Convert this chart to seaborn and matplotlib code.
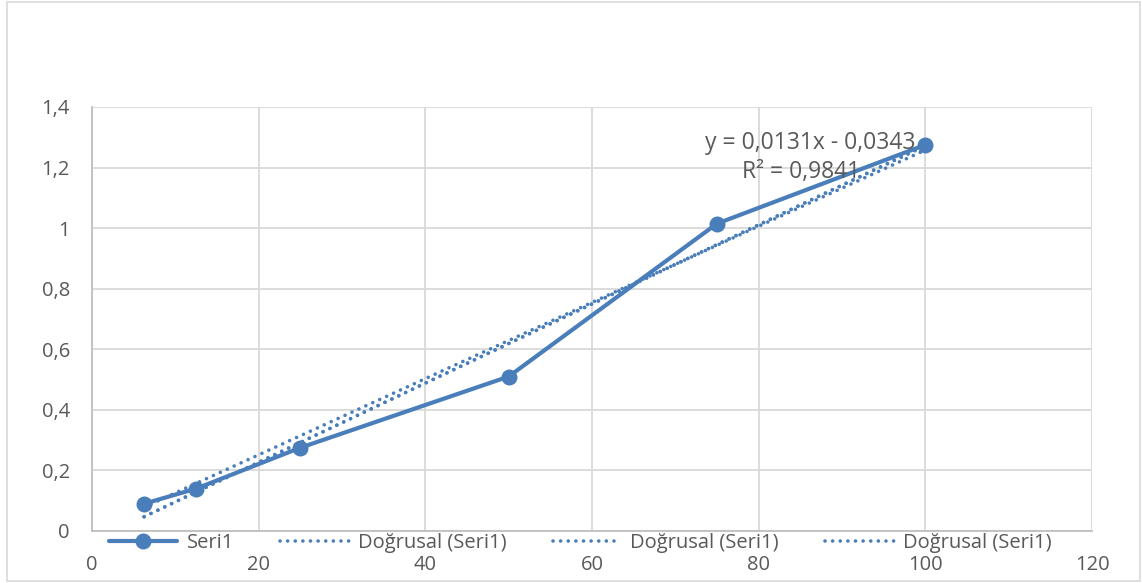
import numpy as np
import pandas as pd
import matplotlib
matplotlib.use("Agg")
import matplotlib.pyplot as plt
import seaborn as sns
from matplotlib.ticker import FuncFormatter, MultipleLocator
from matplotlib.patches import Rectangle

# Data
x_vals = [6.25, 12.5, 25, 50, 75, 100]
y_vals = [0.09, 0.14, 0.275, 0.51, 1.015, 1.275]
series_name = "Seri1"
trend_label = "Doğrusal (Seri1)"
eq_line1 = "y = 0,0131x - 0,0343"
eq_line2 = "R² = 0,9841"

sns.set_theme(style="white")
plt.rcParams['font.family'] = ['Open Sans', 'DejaVu Sans']

blue = "#4a7ebb"
txt = "#595959"
FS = 14.5
EFS = 16.5

fig = plt.figure(figsize=(11.42, 5.83), dpi=100)
ax = fig.add_axes([92/1142, 1-531/583, 1000/1142, 424/583])

df = pd.DataFrame({"x": x_vals, "y": y_vals})
xa = np.array(x_vals)
ya = np.array(y_vals)

# Trendlines (Excel-style linear fits)
slope, intercept = np.polyfit(xa, ya, 1)
slope0 = (xa * ya).sum() / (xa * xa).sum()
xs = np.array([xa.min(), xa.max()])
dot = dict(color=blue, lw=2.6, linestyle=(0, (0.01, 2.1)), dash_capstyle="round",
           solid_capstyle="round")
l1, = ax.plot(xs, slope * xs + intercept, label=trend_label, **dot)
l2, = ax.plot(xs, slope0 * xs, label=trend_label, **dot)
l3, = ax.plot(xs, slope * xs + intercept, label=trend_label, **dot)

sns.lineplot(data=df, x="x", y="y", ax=ax, color=blue, lw=3, marker="o",
             markersize=11.5, markeredgewidth=0, label=series_name, zorder=5)

ax.set_xlim(0, 120)
ax.set_ylim(0, 1.4)
ax.xaxis.set_major_locator(MultipleLocator(20))
ax.yaxis.set_major_locator(MultipleLocator(0.2))
fmt = FuncFormatter(lambda v, p: ("%g" % round(v, 2)).replace(".", ","))
ax.xaxis.set_major_formatter(fmt)
ax.yaxis.set_major_formatter(fmt)
ax.grid(True, color="#d9d9d9", lw=1.3)
ax.set_axisbelow(True)
for s in ["top", "right"]:
    ax.spines[s].set_visible(False)
for s in ["left", "bottom"]:
    ax.spines[s].set_color("#bfbfbf")
    ax.spines[s].set_linewidth(1.3)
ax.tick_params(axis="both", length=0, labelsize=FS, labelcolor=txt)
ax.tick_params(axis="x", pad=17)
ax.tick_params(axis="y", pad=16)
ax.set_xlabel("")
ax.set_ylabel("")

ax.annotate(eq_line1, xy=(810, 583 - 143), xycoords="figure pixels", ha="center",
            va="center", fontsize=EFS, color=txt, zorder=6)
ax.annotate(eq_line2, xy=(801, 583 - 172), xycoords="figure pixels", ha="center",
            va="center", fontsize=EFS, color=txt, zorder=6)

handles = [ax.get_lines()[-1], l1, l2, l3]
if ax.legend_:
    ax.legend_.remove()
leg = fig.legend(handles, [series_name, trend_label, trend_label, trend_label],
                 loc="center", bbox_to_anchor=(0.508, 1-543/583), ncol=4,
                 frameon=False, fontsize=FS, handlelength=3.4, columnspacing=2.3,
                 handletextpad=0.45, labelcolor=txt, borderaxespad=0)

fig.patches.append(Rectangle((7/1142, 2/583), 1133/1142, 579/583, transform=fig.transFigure,
                             fill=False, edgecolor="#d9d9d9", lw=1.2))

fig.savefig("out.png", dpi=100)
